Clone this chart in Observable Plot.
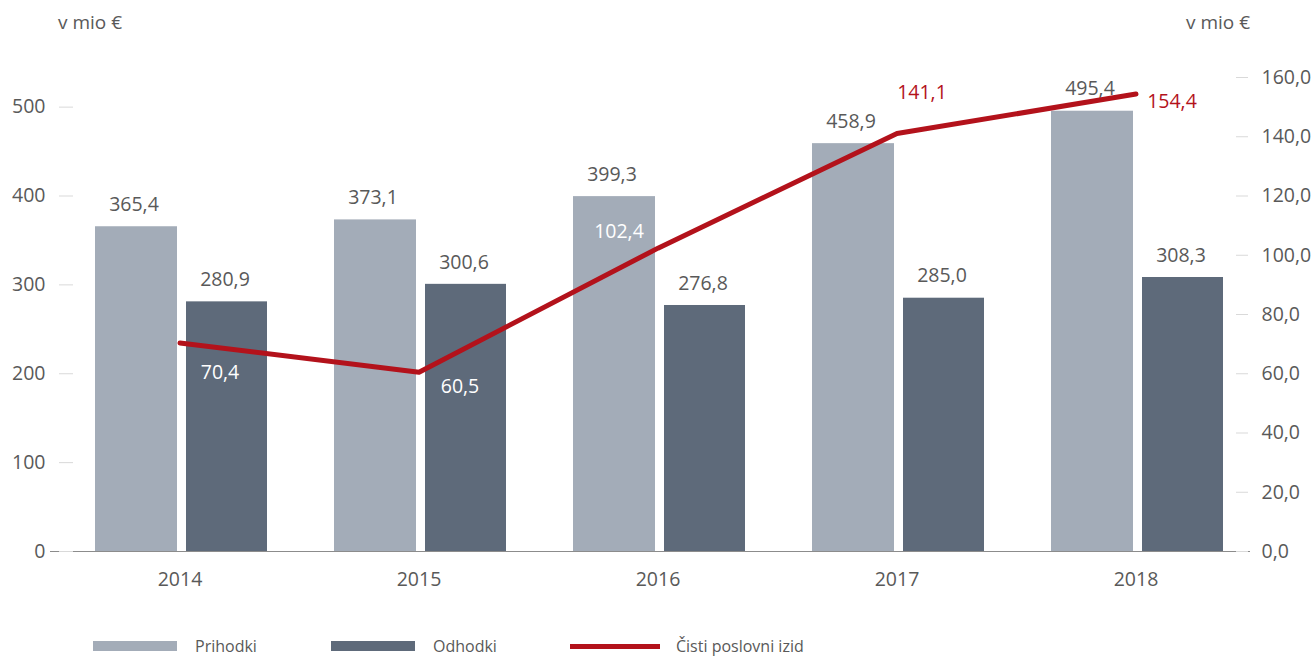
<!DOCTYPE html>
<html>
<head>
<meta charset="utf-8">
<script src="https://cdn.jsdelivr.net/npm/d3@7"></script>
<script src="https://cdn.jsdelivr.net/npm/@observablehq/plot@0.6"></script>
<style>
  html, body { margin: 0; padding: 0; background: #fff; }
  body { width: 1314px; height: 656px; overflow: hidden; font-family: "Open Sans", sans-serif; color: #595959; }
  .hdr { position: relative; height: 44px; font-size: 19px; }
  .hdr span { position: absolute; top: 22px; transform: translateY(-50%); white-space: nowrap; }
  .hdr .l { left: 58px; }
  .hdr .r { right: 64px; }
  .legend { position: relative; height: 34px; font-size: 16px; }
  .legend .item { position: absolute; top: 0; height: 34px; display: flex; align-items: center; }
  .legend .sw { width: 84px; height: 10px; margin-right: 18px; }
  .legend .ln { width: 90px; height: 5px; margin-right: 16px; }
</style>
</head>
<body>
<div class="hdr"><span class="l">v mio €</span><span class="r">v mio €</span></div>
<div id="chart"></div>
<div class="legend" id="legend"></div>
<script>
// ---- data ----
const years = ["2014", "2015", "2016", "2017", "2018"];
const prihodki = [365.4, 373.1, 399.3, 458.9, 495.4];
const odhodki = [280.9, 300.6, 276.8, 285.0, 308.3];
const cistiIzid = [70.4, 60.5, 102.4, 141.1, 154.4];
const leftTicks = [0, 100, 200, 300, 400, 500];
const rightTicks = [0, 20, 40, 60, 80, 100, 120, 140, 160];
const seriesNames = ["Prihodki", "Odhodki", "Čisti poslovni izid"];

// ---- styles ----
const cLight = "#a3acb8", cDark = "#5e6a7a", cRed = "#b3121b";
const cText = "#595959", cTick = "#d9d9d9", cBase = "#8c8c8c";
// label offsets for the line values (dx, dy, colour)
const lineLabelStyle = [
  [40, 30, "#ffffff"], [41, 14, "#ffffff"], [-39, -16, "#ffffff"], [25, -41, cRed], [36, 8, cRed]
];

const k = 10 / 3; // right axis -> left axis units
const fmt = v => v.toFixed(1).replace(".", ",");

const rows = years.map((y, i) => ({year: y, prih: prihodki[i], odh: odhodki[i], izid: cistiIzid[i] * k, izidRaw: cistiIzid[i]}));

const lineLabels = rows.map((r, i) => Plot.text([r], {
  x: "year", y: "izid", text: d => fmt(d.izidRaw),
  dx: lineLabelStyle[i][0], dy: lineLabelStyle[i][1], fill: lineLabelStyle[i][2],
  fontSize: 19.5, lineAnchor: "middle"
}));

const chart = Plot.plot({
  width: 1314, height: 585,
  marginTop: 33, marginBottom: 78, marginLeft: 58, marginRight: 57,
  style: {fontFamily: "Open Sans", fontSize: "19px", color: cText, background: "white"},
  x: {type: "band", domain: years, paddingInner: 0, paddingOuter: 0, axis: null, label: null},
  y: {domain: [0, 160 * k], axis: null, label: null},
  marks: [
    Plot.barY(rows, {x: "year", y: "prih", fill: cLight, insetLeft: 35, insetRight: 122}),
    Plot.barY(rows, {x: "year", y: "odh", fill: cDark, insetLeft: 126, insetRight: 32}),
    Plot.ruleY([0], {stroke: cBase, strokeWidth: 1.2, insetLeft: -8, insetRight: 7}),
    Plot.axisX({tickSize: 0, tickPadding: 21, fill: cText, fontSize: 19.5, label: null}),
    Plot.axisY(leftTicks, {anchor: "left", tickSize: 14, tickPadding: 14, dx: 15, stroke: cTick, fill: cText, fontSize: 19.5, label: null, tickFormat: d => String(d)}),
    Plot.axisY(rightTicks.map(v => v * k), {anchor: "right", tickSize: 12, tickPadding: 14, dx: -22, stroke: cTick, fill: cText, fontSize: 19.5, label: null, tickFormat: d => fmt(d / k)}),
    Plot.text(rows, {x: "year", y: "prih", text: d => fmt(d.prih), dx: -46, dy: -22, fill: cText, fontSize: 19.5, lineAnchor: "middle"}),
    Plot.text(rows, {x: "year", y: "odh", text: d => fmt(d.odh), dx: 45, dy: -22, fill: cText, fontSize: 19.5, lineAnchor: "middle"}),
    Plot.line(rows, {x: "year", y: "izid", stroke: cRed, strokeWidth: 5, strokeLinecap: "round", strokeLinejoin: "round"}),
    ...lineLabels
  ]
});
document.getElementById("chart").appendChild(chart);

// legend
const legend = document.getElementById("legend");
const legendItems = [
  {name: seriesNames[0], kind: "sw", color: cLight, left: 93},
  {name: seriesNames[1], kind: "sw", color: cDark, left: 331},
  {name: seriesNames[2], kind: "ln", color: cRed, left: 570}
];
for (const it of legendItems) {
  const d = document.createElement("div");
  d.className = "item";
  d.style.left = it.left + "px";
  const s = document.createElement("div");
  s.className = it.kind;
  s.style.background = it.color;
  const t = document.createElement("span");
  t.textContent = it.name;
  d.appendChild(s); d.appendChild(t);
  legend.appendChild(d);
}
</script>
</body>
</html>
